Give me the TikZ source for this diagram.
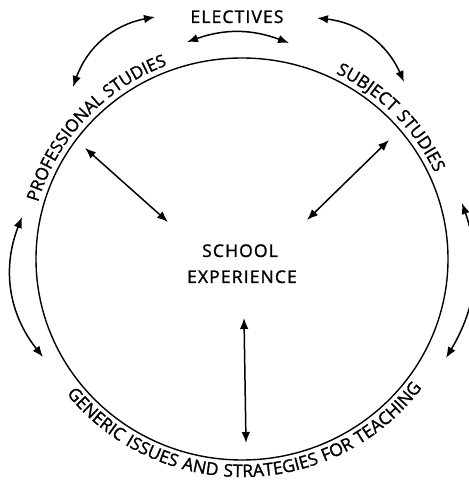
\documentclass[tikz,border=0pt]{standalone}
\usepackage{fontspec}
\usetikzlibrary{arrows.meta,decorations.text,shapes.geometric}
\newfontfamily\labfont[LetterSpace=6.5,FakeBold=1.3]{Open Sans}
\newfontfamily\arcfont[LetterSpace=2,FakeBold=1.3]{Open Sans}
\newfontfamily\arcwidefont[LetterSpace=5.5,FakeBold=1.3]{Open Sans}
\newcommand\curvfont{\arcfont\fontsize{17.2}{18}\selectfont}
\newcommand\curvwidefont{\arcwidefont\fontsize{17.5}{18}\selectfont}
\begin{document}
\begin{tikzpicture}[x=1pt,y=1pt,
  arr/.style={{Latex[length=11pt,width=8.5pt]}-{Latex[length=11pt,width=8.5pt]}, line width=1.5pt},
  lab/.style={font=\labfont\fontsize{17.5}{20}\selectfont, inner sep=0pt},
  curv/.style={decorate, decoration={text along path, text align=center, text={|\curvfont|#1}}},
  curvwide/.style={decorate, decoration={text along path, text align=center, text={|\curvwidefont|#1}}}]
\useasboundingbox (0,0) rectangle (468,481);
\node[draw, ellipse, line width=1.4pt, minimum width=412pt, minimum height=402pt, inner sep=0pt] (ring) at (242,222) {};
\node[lab, anchor=base] (elect) at (237,458) {ELECTIVES};
\node[lab, anchor=base] (school) at (240,224) {SCHOOL};
\node[lab, anchor=base] (exper) at (242,198) {EXPERIENCE};
% curved labels
\path[curv=PROFESSIONAL STUDIES] (ring.center) ++(175:212 and 207) arc[start angle=175, end angle=100, x radius=212, y radius=207];
\path[curvwide=SUBJECT STUDIES] (ring.center) ++(80:212 and 207) arc[start angle=80, end angle=8, x radius=212, y radius=207];
\path[curvwide=GENERIC ISSUES AND STRATEGIES FOR TEACHING] (ring.center) ++(200:223 and 218) arc[start angle=200, end angle=342, x radius=223, y radius=218];
% arrow end points
\coordinate (a1) at (155,464); \coordinate (a2) at (73,394);
\coordinate (b1) at (187,439); \coordinate (b2) at (289,438);
\coordinate (c1) at (317,463); \coordinate (c2) at (404,399);
\coordinate (d1) at (462,278); \coordinate (d2) at (446,123);
\coordinate (e1) at (22,264);  \coordinate (e2) at (43,124);
\coordinate (f1) at (85,333);  \coordinate (f2) at (168,259);
\coordinate (g1) at (389,341); \coordinate (g2) at (307,261);
\coordinate (h1) at (244,163); \coordinate (h2) at (246,38);
\draw[arr] (a1) to[bend right=30] (a2);
\draw[arr] (b1) to[bend left=20] (b2);
\draw[arr] (c1) to[bend left=30] (c2);
\draw[arr] (d1) to[bend left=25] (d2);
\draw[arr] (e1) to[bend right=30] (e2);
\draw[arr] (f1) -- (f2);
\draw[arr] (g1) -- (g2);
\draw[arr] (h1) -- (h2);
\end{tikzpicture}
\end{document}
